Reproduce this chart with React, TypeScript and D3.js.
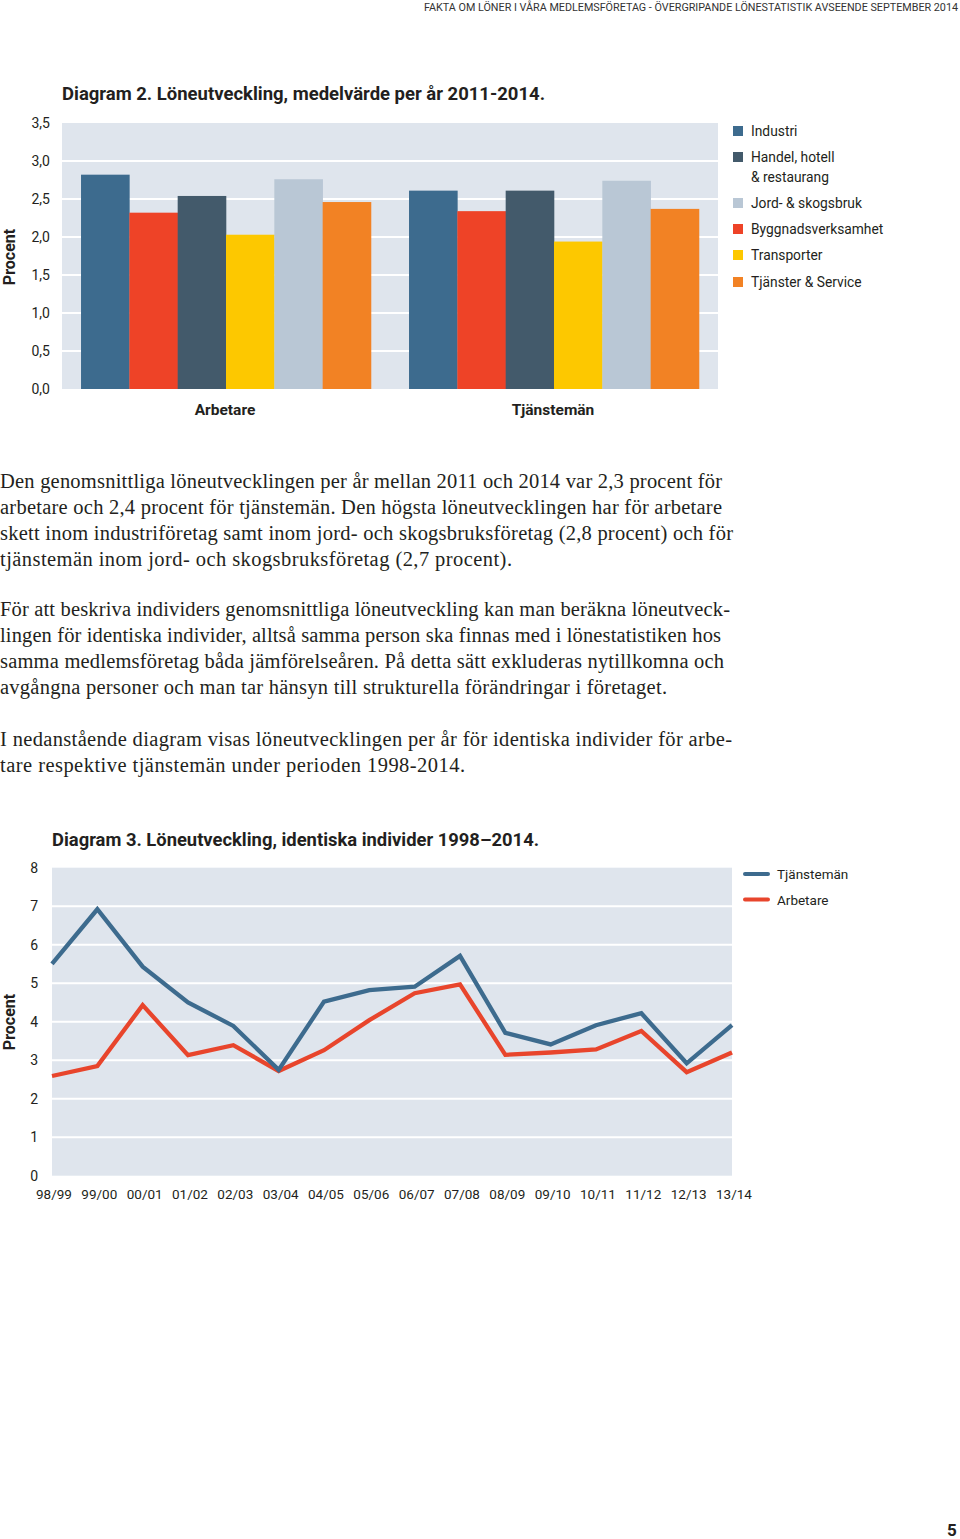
import React from "react";
import * as d3 from "d3";

const groups = ["Arbetare", "Tjänstemän"];
const barSeries = ["Industri", "Byggnadsverksamhet", "Handel, hotell & restaurang", "Transporter", "Jord- & skogsbruk", "Tjänster & Service"];
const barColors = ["#3d6b8e", "#ee4327", "#435a6b", "#fdc800", "#b9c7d5", "#f28224"];
const arbetareValues = [2.82, 2.32, 2.54, 2.03, 2.76, 2.46];
const tjanstemanValues = [2.61, 2.34, 2.61, 1.94, 2.74, 2.37];
const barTicks = [0, 0.5, 1, 1.5, 2, 2.5, 3, 3.5];
const barLegend = [
  { name: "Industri", color: "#3d6b8e", lines: ["Industri"] },
  { name: "Handel", color: "#435a6b", lines: ["Handel, hotell", "& restaurang"] },
  { name: "Jord", color: "#b9c7d5", lines: ["Jord- & skogsbruk"] },
  { name: "Bygg", color: "#ee4327", lines: ["Byggnadsverksamhet"] },
  { name: "Transporter", color: "#fdc800", lines: ["Transporter"] },
  { name: "Tjanster", color: "#f28224", lines: ["Tjänster & Service"] },
];

const years = ["98/99", "99/00", "00/01", "01/02", "02/03", "03/04", "04/05", "05/06", "06/07", "07/08", "08/09", "09/10", "10/11", "11/12", "12/13", "13/14"];
const tjanstemanLine = [5.5, 6.92, 5.43, 4.5, 3.89, 2.75, 4.52, 4.82, 4.91, 5.71, 3.71, 3.41, 3.91, 4.22, 2.92, 3.91];
const arbetareLine = [2.59, 2.85, 4.43, 3.13, 3.39, 2.72, 3.26, 4.04, 4.74, 4.97, 3.14, 3.2, 3.28, 3.76, 2.69, 3.2];
const lineTicks = [0, 1, 2, 3, 4, 5, 6, 7, 8];
const lineSeries = [
  { name: "Tjänstemän", color: "#3d6b8e", values: tjanstemanLine },
  { name: "Arbetare", color: "#e8452c", values: arbetareLine },
];

const bodyLines = [
  { t: "Den genomsnittliga löneutvecklingen per år mellan 2011 och 2014 var 2,3 procent för", w: 722 },
  { t: "arbetare och 2,4 procent för tjänstemän. Den högsta löneutvecklingen har för arbetare", w: 722 },
  { t: "skett inom industriföretag samt inom jord- och skogsbruksföretag (2,8 procent) och för", w: 733 },
  { t: "tjänstemän inom jord- och skogsbruksföretag (2,7 procent).", w: 512 },
  { t: "För att beskriva individers genomsnittliga löneutveckling kan man beräkna löneutveck-", w: 730 },
  { t: "lingen för identiska individer, alltså samma person ska finnas med i lönestatistiken hos", w: 721 },
  { t: "samma medlemsföretag båda jämförelseåren. På detta sätt exkluderas nytillkomna och", w: 724 },
  { t: "avgångna personer och man tar hänsyn till strukturella förändringar i företaget.", w: 667 },
  { t: "I nedanstående diagram visas löneutvecklingen per år för identiska individer för arbe-", w: 732 },
  { t: "tare respektive tjänstemän under perioden 1998-2014.", w: 465 },
];
const bodyBaselines = [488, 514, 540, 566, 616, 642, 668, 694, 746, 772];

const SANS = "Roboto, 'Open Sans', sans-serif";
const SERIF = "'Liberation Serif', 'DejaVu Serif', serif";
const BG = "#dfe5ed";
const TXT = "#231f20";

export default function App() {
  // Bar chart
  const bx0 = 62, bx1 = 718, by0 = 389, by1 = 123;
  const yBar = d3.scaleLinear().domain([0, 3.5]).range([by0, by1]);
  const xGroup = d3.scaleBand().domain(groups).range([bx0, bx1]).paddingInner(0.116).paddingOuter(0.058);
  const xSeries = d3.scaleBand().domain(barSeries).range([0, xGroup.bandwidth()]);
  const barData = [arbetareValues, tjanstemanValues];
  const fmt = (v: number) => d3.format(".1f")(v).replace(".", ",");

  // Line chart
  const lx0 = 52, lx1 = 732, ly0 = 1175.7, ly1 = 867.7;
  const xLine = d3.scalePoint().domain(years).range([lx0, lx1]);
  const yLine = d3.scaleLinear().domain([0, 8]).range([ly0, ly1]);
  const lineGen = d3.line<number>().x((_, i) => xLine(years[i]) as number).y((d) => yLine(d));

  return (
    <svg width={960} height={1539} style={{ position: "absolute", left: 0, top: 0, background: "#fff" }}>
      <text x={958} y={10.5} textAnchor="end" fontFamily={SANS} fontSize={10.5} fill="#333" textLength={534} lengthAdjust="spacingAndGlyphs">
        FAKTA OM LÖNER I VÅRA MEDLEMSFÖRETAG - ÖVERGRIPANDE LÖNESTATISTIK AVSEENDE SEPTEMBER 2014
      </text>

      {/* Diagram 2 */}
      <text x={62} y={100} fontFamily={SANS} fontWeight="bold" fontSize={18} fill={TXT} textLength={483} lengthAdjust="spacingAndGlyphs">
        Diagram 2. Löneutveckling, medelvärde per år 2011-2014.
      </text>
      <rect x={bx0} y={by1} width={bx1 - bx0} height={by0 - by1} fill={BG} />
      {barTicks.filter((t) => t > 0 && t < 3.5).map((t) => (
        <line key={t} x1={bx0} x2={bx1} y1={yBar(t)} y2={yBar(t)} stroke="#fff" strokeWidth={2} />
      ))}
      {groups.map((g, gi) => (
        <g key={g} transform={`translate(${xGroup(g)},0)`}>
          {barSeries.map((s, si) => (
            <rect key={s} x={xSeries(s)} y={yBar(barData[gi][si])} width={xSeries.bandwidth() + 0.3} height={by0 - yBar(barData[gi][si])} fill={barColors[si]} />
          ))}
        </g>
      ))}
      {barTicks.map((t) => (
        <text key={t} x={50} y={yBar(t) + 5} textAnchor="end" fontFamily={SANS} fontSize={14} fill={TXT}>
          {fmt(t)}
        </text>
      ))}
      {groups.map((g) => (
        <text key={g} x={(xGroup(g) as number) + xGroup.bandwidth() / 2 - 1} y={415} textAnchor="middle" fontFamily={SANS} fontWeight="bold" fontSize={15.5} fill={TXT}>
          {g}
        </text>
      ))}
      <text transform="translate(15,257) rotate(-90)" textAnchor="middle" fontFamily={SANS} fontWeight="bold" fontSize={16} fill={TXT}>
        Procent
      </text>
      {(() => {
        const ys = [131, 157, 203, 229, 255, 282];
        return barLegend.map((l, i) => (
          <g key={l.name}>
            <rect x={733} y={ys[i] - 5} width={10} height={10} fill={l.color} />
            {l.lines.map((ln, j) => (
              <text key={j} x={751} y={ys[i] + 5 + j * 19.5} fontFamily={SANS} fontSize={13.8} fill={TXT}>
                {ln}
              </text>
            ))}
          </g>
        ));
      })()}

      {/* Body text */}
      {bodyLines.map((l, i) => (
        <text key={i} x={0} y={bodyBaselines[i]} fontFamily={SERIF} fontSize={20.5} fill={TXT} textLength={l.w} lengthAdjust="spacing">
          {l.t}
        </text>
      ))}

      {/* Diagram 3 */}
      <text x={52} y={846} fontFamily={SANS} fontWeight="bold" fontSize={18} fill={TXT} textLength={487} lengthAdjust="spacingAndGlyphs">
        Diagram 3. Löneutveckling, identiska individer 1998–2014.
      </text>
      <rect x={lx0} y={ly1} width={lx1 - lx0} height={ly0 - ly1} fill={BG} />
      {lineTicks.filter((t) => t > 0 && t < 8).map((t) => (
        <line key={t} x1={lx0} x2={lx1} y1={yLine(t)} y2={yLine(t)} stroke="#fff" strokeWidth={2} />
      ))}
      {lineTicks.map((t) => (
        <text key={t} x={38} y={yLine(t) + 5} textAnchor="end" fontFamily={SANS} fontSize={14} fill={TXT}>
          {t}
        </text>
      ))}
      {years.map((yr) => (
        <text key={yr} x={(xLine(yr) as number) + 2} y={1199} textAnchor="middle" fontFamily={SANS} fontSize={13.5} fill={TXT}>
          {yr}
        </text>
      ))}
      {lineSeries.slice().reverse().map((s) => (
        <path key={s.name} d={lineGen(s.values) as string} fill="none" stroke={s.color} strokeWidth={4.3} strokeLinejoin="miter" />
      ))}
      <text transform="translate(15,1022) rotate(-90)" textAnchor="middle" fontFamily={SANS} fontWeight="bold" fontSize={16} fill={TXT}>
        Procent
      </text>
      {lineSeries.map((s, i) => (
        <g key={s.name}>
          <line x1={745} x2={768} y1={874 + i * 25.5} y2={874 + i * 25.5} stroke={s.color} strokeWidth={4} strokeLinecap="round" />
          <text x={777} y={879 + i * 25.5} fontFamily={SANS} fontSize={13.5} fill={TXT}>
            {s.name}
          </text>
        </g>
      ))}

      <text x={952} y={1536} textAnchor="middle" fontFamily={SANS} fontWeight="bold" fontSize={17} fill={TXT}>
        5
      </text>
    </svg>
  );
}
